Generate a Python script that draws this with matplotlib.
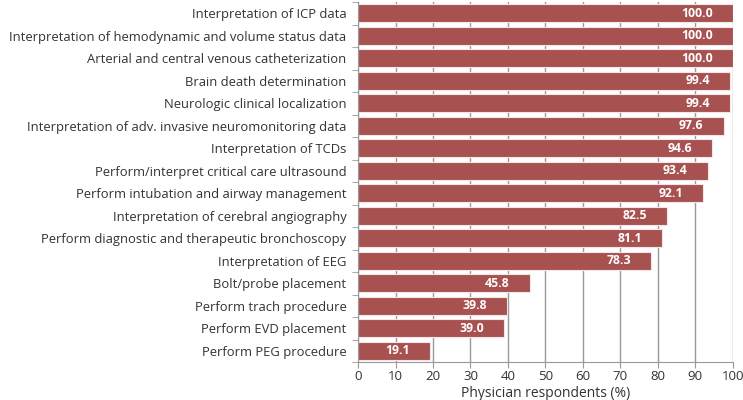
import numpy as np
import matplotlib
matplotlib.use('Agg')
import matplotlib.pyplot as plt

plt.rcParams['font.family'] = ['Open Sans', 'DejaVu Sans']

categories = [
    'Interpretation of ICP data',
    'Interpretation of hemodynamic and volume status data',
    'Arterial and central venous catheterization',
    'Brain death determination',
    'Neurologic clinical localization',
    'Interpretation of adv. invasive neuromonitoring data',
    'Interpretation of TCDs',
    'Perform/interpret critical care ultrasound',
    'Perform intubation and airway management',
    'Interpretation of cerebral angiography',
    'Perform diagnostic and therapeutic bronchoscopy',
    'Interpretation of EEG',
    'Bolt/probe placement',
    'Perform trach procedure',
    'Perform EVD placement',
    'Perform PEG procedure',
]
values = [100.0, 100.0, 100.0, 99.4, 99.4, 97.6, 94.6, 93.4, 92.1,
          82.5, 81.1, 78.3, 45.8, 39.8, 39.0, 19.1]
xticks = list(range(0, 101, 10))

bar_color = '#a85151'
text_color = '#333333'
grid_color = '#999999'

fig = plt.figure(figsize=(7.43, 4.0), dpi=100)
ax = fig.add_axes([0.482, 0.095, 0.504, 0.9])

y = np.arange(len(categories))
bars = ax.barh(y, values, height=0.8, color=bar_color, edgecolor='#f3e6e6',
               linewidth=0.8, zorder=2)

for b, v in zip(bars, values):
    ax.annotate(f'{v:.1f}', xy=(b.get_width(), b.get_y() + b.get_height() / 2),
                xytext=(-14.5, 0), textcoords='offset points', ha='right',
                va='center', color='white', fontsize=8.8, fontweight='bold')

ax.set_xlim(0, 100)
ax.set_ylim(len(categories) - 0.5, -0.5)
ax.set_xticks(xticks)
ax.set_yticks(y)
ax.set_yticklabels(categories, fontsize=9.4, color=text_color)
ax.tick_params(axis='y', length=0, pad=8.5)
ax.set_yticks(np.arange(-0.5, len(categories), 1), minor=True)
ax.tick_params(axis='y', which='minor', length=4, color=grid_color)
ax.tick_params(axis='x', length=4, color=grid_color, labelsize=9.5,
               labelcolor=text_color, pad=2)
ax.xaxis.grid(True, color=grid_color, linewidth=1, zorder=0)
ax.set_axisbelow(True)
for s in ['top', 'right']:
    ax.spines[s].set_visible(False)
for s in ['left', 'bottom']:
    ax.spines[s].set_color(grid_color)
ax.set_xlabel('Physician respondents (%)', fontsize=10, color=text_color, labelpad=2)

fig.savefig('out.png', dpi=100)
